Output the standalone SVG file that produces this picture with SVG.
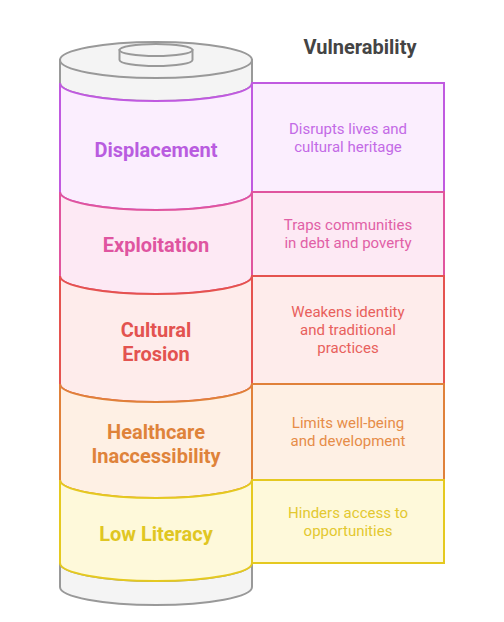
<svg xmlns="http://www.w3.org/2000/svg" width="504" height="622" viewBox="0 0 504 622">
<style>
.lbl{font-family:Roboto,"Liberation Sans",sans-serif;font-weight:bold;font-size:20px;text-anchor:middle}
.desc{font-family:Roboto,"Liberation Sans",sans-serif;font-size:15px;text-anchor:middle}
.band{stroke-width:2}
.gray{fill:#f4f4f4;stroke:#999999;stroke-width:2}
</style>
<rect width="504" height="622" fill="#ffffff"/>
<text x="360" y="54" font-family="Roboto,'Liberation Sans',sans-serif" font-weight="bold" font-size="20" fill="#444444" text-anchor="middle">Vulnerability</text>
<g id="cap-bottom">
<path class="gray" d="M60,563 A96,18 0 0 0 252,563 L252,587 A96,18 0 0 1 60,587 Z"/>
</g>
<g id="cap-top">
<path class="gray" d="M60,60 L60,83 A96,18 0 0 0 252,83 L252,60 Z"/>
<ellipse class="gray" cx="156" cy="60" rx="96" ry="18"/>
<path class="gray" d="M119.5,50 L119.5,60 A36.5,6 0 0 0 192.5,60 L192.5,50 Z"/>
<ellipse class="gray" cx="156" cy="50" rx="36.5" ry="6"/>
</g>
<g id="displacement">
<path class="band" fill="#fbeefe" stroke="#c05ae0" d="M60,83 A96,18 0 0 0 252,83 L252,192 A96,18 0 0 1 60,192 Z"/>
<text class="lbl" x="156" y="157" fill="#b95ce0">Displacement</text>
<rect class="band" x="252" y="83" width="192" height="109" fill="#fbeefe" stroke="#c05ae0"/>
<text class="desc" x="348" y="134" fill="#c36ae6">Disrupts lives and</text>
<text class="desc" x="348" y="152" fill="#c36ae6">cultural heritage</text>
</g>
<g id="exploitation">
<path class="band" fill="#fde9f4" stroke="#e0559e" d="M60,192 A96,18 0 0 0 252,192 L252,276 A96,18 0 0 1 60,276 Z"/>
<text class="lbl" x="156" y="252" fill="#df55a0">Exploitation</text>
<rect class="band" x="252" y="192" width="192" height="84" fill="#fde9f4" stroke="#e0559e"/>
<text class="desc" x="348" y="230" fill="#e160a6">Traps communities</text>
<text class="desc" x="348" y="248" fill="#e160a6">in debt and poverty</text>
</g>
<g id="cultural-erosion">
<path class="band" fill="#feeceb" stroke="#e5534f" d="M60,276 A96,18 0 0 0 252,276 L252,384 A96,18 0 0 1 60,384 Z"/>
<text class="lbl" x="156" y="337" fill="#e35350">Cultural</text>
<text class="lbl" x="156" y="361" fill="#e35350">Erosion</text>
<rect class="band" x="252" y="276" width="192" height="108" fill="#feeceb" stroke="#e5534f"/>
<text class="desc" x="348" y="317" fill="#e8605c">Weakens identity</text>
<text class="desc" x="348" y="335" fill="#e8605c">and traditional</text>
<text class="desc" x="348" y="353" fill="#e8605c">practices</text>
</g>
<g id="healthcare">
<path class="band" fill="#fef0e4" stroke="#e0813a" d="M60,384 A96,18 0 0 0 252,384 L252,480 A96,18 0 0 1 60,480 Z"/>
<text class="lbl" x="156" y="439" fill="#df833a">Healthcare</text>
<text class="lbl" x="156" y="463" fill="#df833a">Inaccessibility</text>
<rect class="band" x="252" y="384" width="192" height="96" fill="#fef0e4" stroke="#e0813a"/>
<text class="desc" x="348" y="428" fill="#e68c48">Limits well-being</text>
<text class="desc" x="348" y="446" fill="#e68c48">and development</text>
</g>
<g id="low-literacy">
<path class="band" fill="#fef9da" stroke="#e5c920" d="M60,480 A96,18 0 0 0 252,480 L252,563 A96,18 0 0 1 60,563 Z"/>
<text class="lbl" x="156" y="541" fill="#e0c622">Low Literacy</text>
<rect class="band" x="252" y="480" width="192" height="83" fill="#fef9da" stroke="#e5c920"/>
<text class="desc" x="348" y="518" fill="#e3c830">Hinders access to</text>
<text class="desc" x="348" y="536" fill="#e3c830">opportunities</text>
</g>
<g id="connectors"/>
</svg>
